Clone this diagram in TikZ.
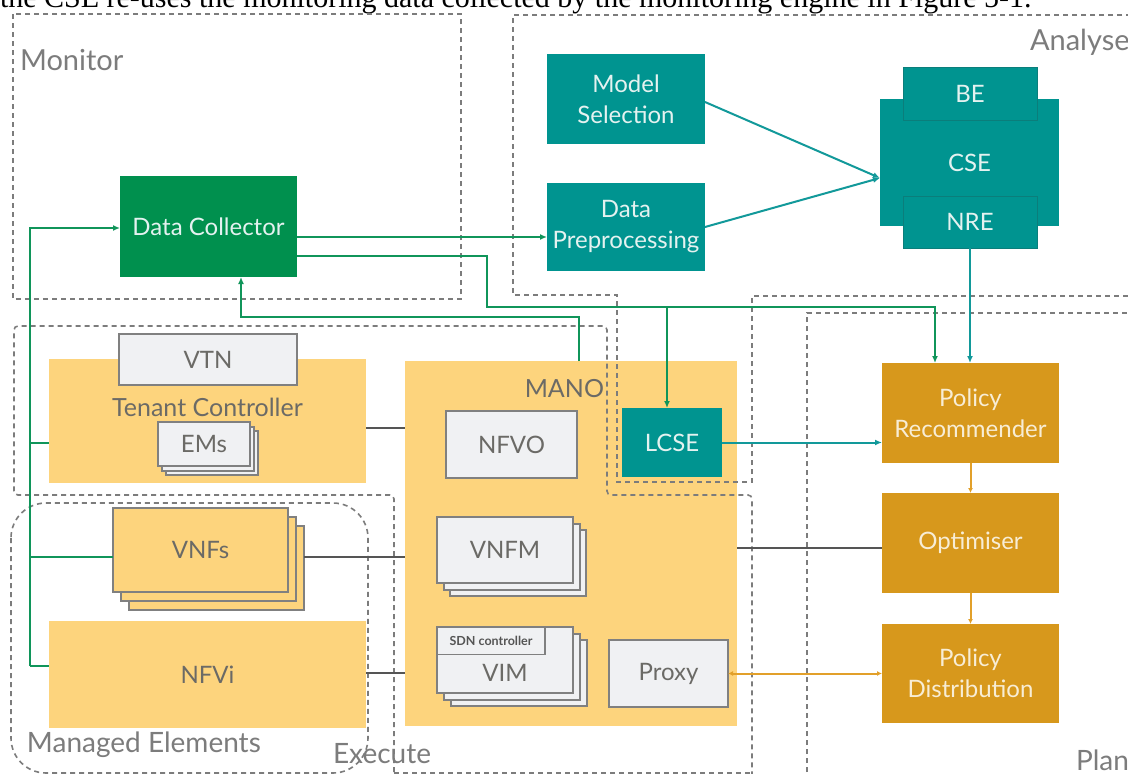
\documentclass[tikz,border=0pt]{standalone}
\usepackage{fontspec}
\setmainfont{Lato}
\newfontfamily\serifx{Liberation Serif}
\usetikzlibrary{arrows.meta}
\definecolor{dcgreen}{HTML}{00904E}
\definecolor{teal1}{HTML}{009490}
\definecolor{tealdark}{HTML}{0B7E7B}
\definecolor{tealtxt}{HTML}{E4F2F0}
\definecolor{mgold}{HTML}{D7981C}
\definecolor{goldtxt}{HTML}{F8EDD5}
\definecolor{myellow}{HTML}{FDD47D}
\definecolor{boxgrey}{HTML}{F0F1F3}
\definecolor{bordergrey}{HTML}{808080}
\definecolor{txtgrey}{HTML}{6B6A66}
\definecolor{dashgrey}{HTML}{7C7C7C}
\definecolor{lgreen}{HTML}{10955A}
\definecolor{lteal}{HTML}{12999A}
\definecolor{lgold}{HTML}{E2A02A}
\definecolor{lgrey}{HTML}{555555}
\begin{document}
\begin{tikzpicture}[x=1pt,y=-1pt,
  every node/.style={inner sep=0pt, outer sep=0pt},
  boxfont/.style={font=\fontsize{24}{31}\selectfont},
  dcbox/.style={boxfont, fill=dcgreen, text=tealtxt},
  tealbox/.style={boxfont, fill=teal1, text=tealtxt},
  tealsub/.style={boxfont, fill=teal1, draw=tealdark, line width=1pt, text=tealtxt},
  goldbox/.style={boxfont, fill=mgold, text=goldtxt, align=center},
  yelbox/.style={boxfont, fill=myellow, text=txtgrey},
  yelstack/.style={boxfont, fill=myellow, draw=bordergrey, line width=2pt, text=txtgrey},
  greybox/.style={boxfont, fill=boxgrey, draw=bordergrey, line width=2pt, text=txtgrey},
  regionlabel/.style={font=\fontsize{29}{34}\selectfont, text=dashgrey, anchor=base west},
  dregion/.style={draw=dashgrey, line width=1.6pt, dash pattern=on 5pt off 4pt},
  gline/.style={draw=lgreen, line width=2pt},
  tline/.style={draw=lteal, line width=2pt},
  oline/.style={draw=lgold, line width=2pt},
  kline/.style={draw=lgrey, line width=1.8pt},
  tip/.style={-{Latex[length=7pt,width=6pt]}},
  smalltip/.style={-{Latex[length=5pt,width=5pt]}}
]
\clip (0,0) rectangle (1128,774);
\fill[white] (0,0) rectangle (1128,774);

% cut-off text line at the top
\node[anchor=base west, font=\serifx\fontsize{30}{34}\selectfont] (toptext) at (0,7) {the CSE re-uses the monitoring data collected by the monitoring engine in Figure 5-1.};

% ---------- Monitor ----------
\node[dcbox, minimum width=177pt, minimum height=101pt] (DC) at (208.5,226.5) {Data Collector};

% ---------- Analyse ----------
\node[tealbox, minimum width=158pt, minimum height=90pt, align=center] (MS) at (626,99) {Model\\Selection};
\node[tealbox, minimum width=158pt, minimum height=88pt, align=center] (DP) at (626,227) {Data\\Preprocessing};
\node[tealbox, minimum width=179pt, minimum height=127pt] (CSE) at (969.5,162.5) {CSE};
\node[tealsub, minimum width=134pt, minimum height=53pt] (BE) at (970,93.5) {BE};
\node[tealsub, minimum width=134pt, minimum height=52pt] (NRE) at (970,222) {NRE};

% ---------- Execute ----------
\node[yelbox, minimum width=317pt, minimum height=124pt] (TC) at (207.5,421) {};
\node[font=\fontsize{25}{30}\selectfont, text=txtgrey, anchor=base] (TClabel) at (207.5,416) {Tenant Controller};
\node[greybox, minimum width=178pt, minimum height=51pt] (VTN) at (208,359.5) {VTN};
\node[greybox, minimum width=92pt, minimum height=44pt] (EMs3) at (212,453) {};
\node[greybox, minimum width=92pt, minimum height=44pt] (EMs2) at (208,448.5) {};
\node[greybox, minimum width=92pt, minimum height=44pt] (EMs) at (204,444) {EMs};

\node[yelstack, minimum width=175pt, minimum height=84pt] (VNFs3) at (216.5,568) {};
\node[yelstack, minimum width=175pt, minimum height=84pt] (VNFs2) at (208.5,559) {};
\node[yelstack, minimum width=175pt, minimum height=84pt] (VNFs) at (200.5,550) {VNFs};

\node[yelbox, minimum width=317pt, minimum height=107pt] (NFVi) at (207.5,674.5) {NFVi};

\node[yelbox, minimum width=332pt, minimum height=365pt] (MANO) at (571,543.5) {};
\node[font=\fontsize{25}{30}\selectfont, text=txtgrey, anchor=base east] (MANOlabel) at (604,397) {MANO};
\node[greybox, minimum width=131pt, minimum height=67pt] (NFVO) at (511.5,444.5) {NFVO};

\node[greybox, minimum width=136pt, minimum height=66pt] (VNFM3) at (518,563) {};
\node[greybox, minimum width=136pt, minimum height=66pt] (VNFM2) at (511.5,556.5) {};
\node[greybox, minimum width=136pt, minimum height=66pt] (VNFM) at (505,550) {VNFM};

\node[greybox, minimum width=136pt, minimum height=66pt] (VIM3) at (519,673) {};
\node[greybox, minimum width=136pt, minimum height=66pt] (VIM2) at (512,666.5) {};
\node[greybox, minimum width=136pt, minimum height=66pt] (VIM) at (505,660) {};
\node[greybox, line width=1.6pt, minimum width=108pt, minimum height=27pt, font=\bfseries\fontsize{12.5}{14}\selectfont, text=lgrey] (SDN) at (491,641) {SDN controller};
\node[boxfont, text=txtgrey] (VIMlabel) at ([yshift=-13pt]VIM.center) {VIM};

\node[greybox, minimum width=119pt, minimum height=67pt] (Proxy) at (668.5,673.5) {Proxy};
\node[tealbox, minimum width=100pt, minimum height=69pt] (LCSE) at (672,442.5) {LCSE};

% ---------- Plan ----------
\node[goldbox, minimum width=177pt, minimum height=100pt] (PR) at (970.5,413) {Policy\\Recommender};
\node[goldbox, minimum width=177pt, minimum height=100pt] (Opt) at (970.5,543) {Optimiser};
\node[goldbox, minimum width=177pt, minimum height=99pt] (PD) at (970.5,673.5) {Policy\\Distribution};

% ---------- dashed regions ----------
\draw[dregion] (13,14) rectangle (461,299);
\draw[dregion] (1140,15) -- (513,15) -- (513,295) -- (617,295) -- (617,482) -- (752,482) -- (752,296) -- (1140,296);
\draw[dregion, rounded corners=4pt] (394,790) -- (394,495) -- (14,495) -- (14,326) -- (607,326) -- (607,495) -- (752,495) -- (752,790);
\draw[dregion] (394,773) -- (752,773);
\draw[dregion, rounded corners=35pt] (11,503) rectangle (368,773);
\draw[dregion] (807,790) -- (807,313) -- (1140,313);

\node[regionlabel] (monitorlabel) at (20,70) {Monitor};
\node[regionlabel] (analyselabel) at (1030,50) {Analyse};
\node[regionlabel, font=\fontsize{28}{34}\selectfont] (melabel) at (27,752) {Managed Elements};
\node[regionlabel, font=\fontsize{28}{34}\selectfont] (execlabel) at (333,763) {Execute};
\node[regionlabel, font=\fontsize{28}{34}\selectfont] (planlabel) at (1076,770) {Plan};

% ---------- connectors ----------
\coordinate (j1) at (487,307);
\coordinate (j2) at (241,317);
\coordinate (b1) at (30,666);
\coordinate (b2) at (30,557);
\coordinate (b3) at (30,443);

% green
\draw[gline, tip] ([yshift=-10.5pt]DC.east) -- ([yshift=-10.5pt]DC.east -| DP.west);
\draw[gline, tip] ([yshift=-29.5pt]DC.east) -| (j1) -| ([xshift=-35.5pt]PR.north);
\draw[gline, tip] ([xshift=-5pt]LCSE.north |- j1) -- ([xshift=-5pt]LCSE.north);
\draw[gline, tip] ([xshift=8pt]MANO.north) |- (j2) -- ([xshift=32.5pt]DC.south);
\draw[gline, tip] (b1) |- ([yshift=-1.5pt]DC.west);
\draw[gline] (b1) -- (NFVi.west |- b1);
\draw[gline] (b2) -- (VNFs.west |- b2);
\draw[gline] (b3) -- (TC.west |- b3);

% teal
\draw[tline, tip] ([yshift=-3pt]MS.east) -- ([yshift=-15.5pt]CSE.west);
\draw[tline, tip] (DP.east) -- ([yshift=-15.5pt]CSE.west);
\draw[tline, tip] (NRE.south) -- (NRE.south |- PR.north);
\draw[tline, tip] (LCSE.east) -- (LCSE.east -| PR.west);

% gold
\draw[oline, smalltip] (PR.south) -- (Opt.north);
\draw[oline, smalltip] (Opt.south) -- (PD.north);
\draw[oline, {Latex[length=5pt,width=5pt]}-{Latex[length=5pt,width=5pt]}] (Proxy.east) -- (Proxy.east -| PD.west);

% grey
\draw[kline] ([yshift=-7pt]TC.east) -- ([yshift=-7pt]TC.east -| MANO.west);
\draw[kline] ([yshift=11pt]VNFs3.east) -- ([yshift=11pt]VNFs3.east -| MANO.west);
\draw[kline] ([yshift=1.5pt]NFVi.east) -- ([yshift=1.5pt]NFVi.east -| MANO.west);
\draw[kline] ([yshift=-4.5pt]MANO.east) -- ([yshift=-4.5pt]MANO.east -| Opt.west);
\end{tikzpicture}
\end{document}
